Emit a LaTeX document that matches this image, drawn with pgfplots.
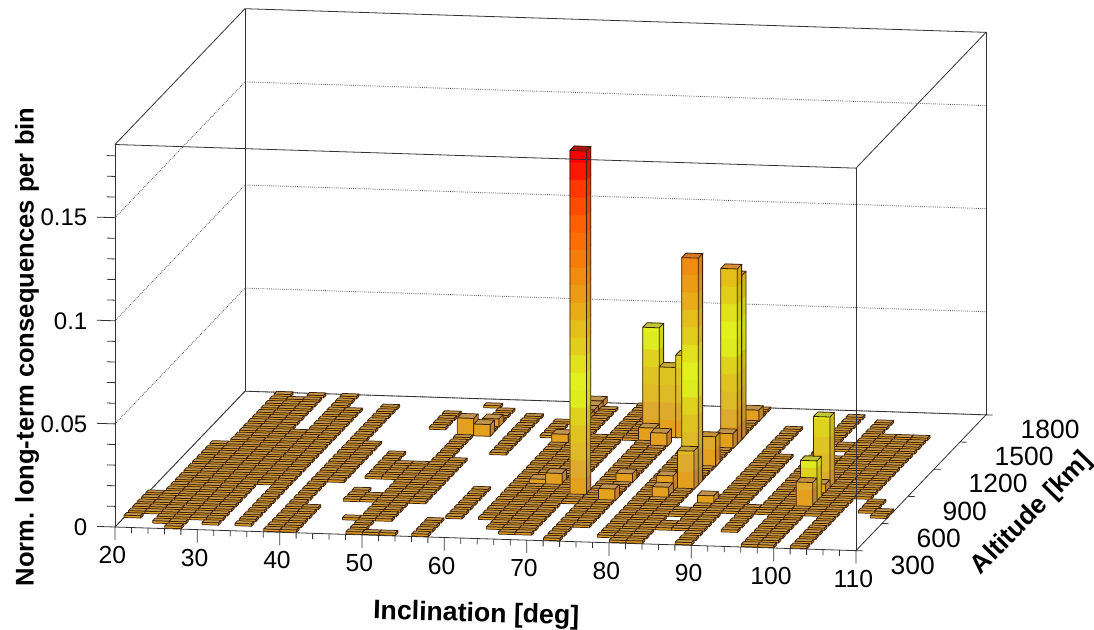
\documentclass[border=0pt]{standalone}
\usepackage{pgfplots}
\pgfplotsset{compat=1.18}
\usepackage{fontspec}
\setmainfont{Liberation Sans}
\definecolor{edgec}{RGB}{60,32,8}
\definecolor{boxc}{RGB}{50,50,50}
\makeatletter
\let\tonum\pgf@sys@tonumber
\makeatother
% ---- data: bin i = (inclination-20)/2, bin j = (altitude-300)/50 ----
\newcommand\setbar[3]{\expandafter\gdef\csname h@#1@#2\endcsname{#3}}
\newcount\tmpj
\newcommand\runbars[3]{% column, first row, last row (lowest bars)
  \tmpj=#2\relax
  \loop\ifnum\tmpj>#3\relax\else
    \setbar{#1}{\the\tmpj}{0.0011}\advance\tmpj by 1\relax
  \repeat}
\runbars{0}{2}{7}
\runbars{1}{3}{18}
\runbars{2}{1}{29}
\runbars{3}{0}{28}
\runbars{4}{2}{29}
\runbars{5}{1}{21}
\runbars{6}{10}{29}
\runbars{7}{1}{26}
\runbars{9}{0}{27}
\runbars{10}{0}{5}\runbars{10}{11}{19}
\runbars{12}{7}{9}\runbars{12}{12}{17}
\runbars{13}{3}{3}\runbars{13}{7}{8}\runbars{13}{12}{15}\runbars{13}{23}{26}
\runbars{14}{0}{15}
\runbars{15}{0}{0}\runbars{15}{3}{21}\runbars{15}{28}{28}
\runbars{16}{0}{0}\runbars{16}{7}{16}\runbars{16}{23}{23}\runbars{16}{25}{27}
\runbars{18}{0}{3}\runbars{18}{18}{26}
\runbars{19}{4}{10}
\runbars{20}{22}{25}
\runbars{21}{4}{21}
\runbars{22}{2}{28}
\runbars{23}{1}{22}
\runbars{24}{1}{29}
\runbars{25}{8}{9}\runbars{25}{22}{28}
\runbars{26}{0}{21}
\runbars{27}{3}{20}
\runbars{29}{1}{20}
\runbars{30}{0}{20}
\runbars{31}{0}{20}\runbars{31}{24}{29}
\runbars{32}{3}{4}\runbars{32}{6}{7}
\runbars{33}{3}{10}
\runbars{34}{0}{25}
\runbars{35}{7}{19}
\runbars{36}{3}{8}
\runbars{37}{7}{28}
\runbars{38}{0}{19}\runbars{38}{21}{22}
\runbars{39}{0}{27}
\runbars{40}{7}{24}
\runbars{41}{0}{24}
\runbars{42}{11}{24}
\runbars{43}{8}{10}
\runbars{44}{7}{8}
% raised bars
\setbar{15}{22}{0.0084}\setbar{16}{22}{0.0057}\setbar{16}{24}{0.0040}
\setbar{21}{21}{0.0044}\setbar{21}{26}{0.0030}\setbar{21}{27}{0.0030}\setbar{21}{28}{0.0030}\setbar{21}{29}{0.0030}
\setbar{22}{12}{0.0026}\setbar{23}{12}{0.0057}
\setbar{25}{10}{0.1670}
\setbar{26}{22}{0.0065}\setbar{26}{23}{0.0530}
\setbar{27}{21}{0.0065}\setbar{27}{23}{0.0340}\setbar{28}{23}{0.0400}
\setbar{27}{9}{0.0058}\setbar{27}{13}{0.0044}
\setbar{30}{10}{0.0052}\setbar{30}{11}{0.0085}
\setbar{31}{12}{0.0186}\setbar{31}{13}{0.1100}\setbar{31}{17}{0.0146}
\setbar{31}{21}{0.0073}\setbar{31}{22}{0.0850}\setbar{31}{23}{0.0795}\setbar{31}{27}{0.0055}
\setbar{33}{9}{0.0040}
\setbar{39}{9}{0.0120}\setbar{39}{10}{0.0203}\setbar{39}{12}{0.0046}\setbar{39}{13}{0.0350}
% two bars whose colour runs a few bands brighter than their height
\expandafter\def\csname s@39@10\endcsname{3}
\expandafter\def\csname s@39@13\endcsname{1}
% ---- drawing machinery ----
\newcount\jc \newcount\ic \newcount\kc \newcount\kcb \newcount\kca
\newdimen\zlo \newdimen\zhi \newdimen\hh
\gdef\stream{}
\def\addface#1#2#3#4#5{\xdef\stream{\unexpanded\expandafter{\stream}(#1)[#5](#2)[#5](#3)[#5](#4)[#5]}}
\def\flushfaceted{\ifx\stream\empty\else
  \edef\tmp{\noexpand\addplot3[patch,patch type=rectangle,shader=faceted,faceted color=edgec,line width=0.55pt,
     point meta=explicit,colormap access=direct] coordinates {\unexpanded\expandafter{\stream}};}\tmp
  \gdef\stream{}\fi}
\def\emitcell{%
  \expandafter\ifx\csname h@\the\ic @\the\jc\endcsname\relax\else
    \edef\xa{\the\numexpr20+2*\ic}\edef\xb{\the\numexpr22+2*\ic}%
    \edef\hv{\csname h@\the\ic @\the\jc\endcsname}%
    \hh=\hv pt\relax
    \ifdim\hh>0.0012pt\relax
      \edef\ya{\the\numexpr300+50*\jc}\edef\yb{\the\numexpr350+50*\jc}%
    \else
      \edef\ya{\the\numexpr305+50*\jc}\edef\yb{\the\numexpr335+50*\jc}%
    \fi
    \ifdim\hh>0.0085pt\relax\talbar\else
      \addface{\xa,\ya,0}{\xb,\ya,0}{\xb,\ya,\hv}{\xa,\ya,\hv}{0}%
      \addface{\xb,\ya,0}{\xb,\yb,0}{\xb,\yb,\hv}{\xb,\ya,\hv}{20}%
      \addface{\xa,\ya,\hv}{\xb,\ya,\hv}{\xb,\yb,\hv}{\xa,\yb,\hv}{40}%
    \fi
  \fi}
\def\talbar{\flushfaceted
  \expandafter\ifx\csname s@\the\ic @\the\jc\endcsname\relax\def\cshift{0}\else\edef\cshift{\csname s@\the\ic @\the\jc\endcsname}\fi
  \kc=0 \bandloop
  \flushflat
  \addplot3[edgec,line width=0.6pt,mark=none] coordinates {(\xa,\ya,0)(\xb,\ya,0)(\xb,\ya,\hv)(\xa,\ya,\hv)(\xa,\ya,0)(\xa,\ya,\hv)(\xa,\yb,\hv)(\xb,\yb,\hv)(\xb,\ya,\hv)(\xb,\ya,0)(\xb,\yb,0)(\xb,\yb,\hv)};}
\def\bandloop{%
  \zlo=0.0085pt \multiply\zlo by \kc
  \ifdim\zlo<\hh
    \zhi=\zlo \advance\zhi by 0.0095pt
    \ifdim\zhi>\hh \zhi=\hh \fi
    \edef\zl{\tonum\zlo}\edef\zh{\tonum\zhi}%
    \kca=\kc \advance\kca by \cshift
    \kcb=\kca \advance\kcb by 20
    \addface{\xa,\ya,\zl}{\xb,\ya,\zl}{\xb,\ya,\zh}{\xa,\ya,\zh}{\the\kca}%
    \addface{\xb,\ya,\zl}{\xb,\yb,\zl}{\xb,\yb,\zh}{\xb,\ya,\zh}{\the\kcb}%
    \edef\lastk{\the\kca}%
    \advance\kc by 1
    \expandafter\bandloop
  \else
    \kcb=\lastk \advance\kcb by 40
    \addface{\xa,\ya,\hv}{\xb,\ya,\hv}{\xb,\yb,\hv}{\xa,\yb,\hv}{\the\kcb}%
  \fi}
\def\flushflat{%
  \edef\tmp{\noexpand\addplot3[patch,patch type=rectangle,shader=flat,
     point meta=explicit,colormap access=direct] coordinates {\unexpanded\expandafter{\stream}};}\tmp
  \gdef\stream{}}
\def\emitcols{\ifnum\ic>44 \else\emitcell\advance\ic by 1 \expandafter\emitcols\fi}
\def\emitrows{\ifnum\jc<0 \else\ic=0 \emitcols\advance\jc by -1 \expandafter\emitrows\fi}
\pgfplotsset{colormap={lego}{
 rgb255=(226,160,30) rgb255=(222,170,45) rgb255=(222,185,40) rgb255=(222,195,35) rgb255=(222,210,30)
 rgb255=(222,235,30) rgb255=(225,240,30) rgb255=(225,225,30) rgb255=(225,205,28) rgb255=(228,190,25)
 rgb255=(232,172,22) rgb255=(236,155,20) rgb255=(240,140,15) rgb255=(245,125,10) rgb255=(250,110,5)
 rgb255=(255,95,0) rgb255=(255,75,0) rgb255=(255,55,0) rgb255=(250,25,0) rgb255=(250,0,0)
 % right-hand faces
 rgb255=(190,132,52) rgb255=(195,150,45) rgb255=(198,165,40) rgb255=(200,175,35) rgb255=(200,190,30)
 rgb255=(205,215,30) rgb255=(205,220,30) rgb255=(205,205,30) rgb255=(205,185,28) rgb255=(208,170,25)
 rgb255=(212,155,22) rgb255=(216,140,20) rgb255=(220,125,15) rgb255=(225,112,10) rgb255=(230,100,5)
 rgb255=(235,85,0) rgb255=(235,68,0) rgb255=(235,50,0) rgb255=(228,22,0) rgb255=(228,0,0)
 % top faces
 rgb255=(190,148,78) rgb255=(195,145,60) rgb255=(195,160,55) rgb255=(195,170,50) rgb255=(195,185,50)
 rgb255=(190,200,50) rgb255=(190,200,50) rgb255=(190,190,50) rgb255=(200,170,50) rgb255=(210,150,55)
 rgb255=(212,140,55) rgb255=(212,130,50) rgb255=(212,120,40) rgb255=(210,105,30) rgb255=(205,90,25)
 rgb255=(200,75,20) rgb255=(195,60,20) rgb255=(190,45,20) rgb255=(180,30,20) rgb255=(170,20,20)
}}
% tick marks, as segments in data coordinates
\gdef\tickstream{}
\def\addtick#1#2{\xdef\tickstream{\unexpanded\expandafter{\tickstream}(#1)(#2)(nan,nan,nan)}}
\newcount\tc
\tc=0
\loop\ifnum\tc<46
  \edef\tx{\the\numexpr20+2*\tc}%
  \ifnum\numexpr\tc-5*(\tc/5)\relax=0
    \addtick{\tx,300,0}{\tx,300,-0.0063}%
  \else
    \addtick{\tx,300,0}{\tx,300,-0.0028}%
  \fi
  \advance\tc by 1
\repeat
\tc=0
\loop\ifnum\tc<19
  \edef\tz{\ifnum\tc<10 0.0\the\tc\else 0.\the\tc\fi}%
  \ifnum\numexpr\tc-5*(\tc/5)\relax=0
    \addtick{20,300,\tz}{17.8,300,\tz}%
  \else
    \addtick{20,300,\tz}{19,300,\tz}%
  \fi
  \advance\tc by 1
\repeat
\addtick{110,300,0}{110.8,300,0}
\addtick{110,600,0}{110.8,600,0}
\addtick{110,900,0}{110.8,900,0}
\addtick{110,1200,0}{110.8,1200,0}
\addtick{110,1500,0}{110.8,1500,0}
\addtick{110,1800,0}{110.8,1800,0}
\begin{document}
\begin{tikzpicture}
\begin{axis}[
  x={(6.175pt,-0.197pt)}, y={(0.065pt,0.0679pt)}, z={(0pt,1546.5pt)},
  xmin=20,xmax=110,ymin=300,ymax=1800,zmin=0,zmax=0.1855,
  3d box=complete, clip=false,
  axis line style={boxc,line width=0.6pt},
  xtick={20,30,...,110}, ytick={300,600,...,1800}, ztick={0,0.05,0.1,0.15},
  zticklabels={0,0.05,0.1,0.15},
  zmajorgrids=true, major grid style={densely dotted,boxc,line width=0.7pt},
  major tick length=0pt, minor tick length=0pt,
  tick align=outside,
  /pgf/number format/assume math mode=true,
  /pgf/number format/set thousands separator={},
  xticklabel style={font=\fontsize{18.5pt}{20pt}\selectfont,anchor=center,xshift=-2pt,yshift=-21pt},
  yticklabel style={font=\fontsize{19.8pt}{20pt}\selectfont,anchor=west,xshift=22.5pt,yshift=-11pt},
  zticklabel style={font=\fontsize{18pt}{20pt}\selectfont,anchor=east,xshift=-17.25pt},
  xlabel={\bfseries Inclination [deg]}, ylabel={\bfseries Altitude [km]}, zlabel={\bfseries Norm. long-term consequences per bin},
  xlabel style={font=\fontsize{20pt}{22pt}\selectfont,anchor=center,at={(axis cs:65,300,0)},xshift=-7pt,yshift=-57pt,rotate=-1.5},
  ylabel style={font=\fontsize{19.6pt}{22pt}\selectfont,anchor=center,at={(axis cs:110,1050,0)},xshift=83.25pt,yshift=-23.25pt,rotate=45.5},
  zlabel style={font=\fontsize{19.2pt}{22pt}\selectfont,anchor=center,at={(axis cs:20,300,0.09)},xshift=-4.2pt,yshift=66pt},
  colormap name=lego,
]
\coordinate (ref) at (axis cs:20,300,0);
\edef\tmp{\noexpand\addplot3[boxc,line width=0.6pt,mark=none,unbounded coords=jump] coordinates {\unexpanded\expandafter{\tickstream}};}\tmp
\jc=29 \emitrows \flushfaceted
\end{axis}
\pgfresetboundingbox
\path[use as bounding box] ([shift={(-86.25pt,-76.5pt)}]ref) rectangle ([shift={(734.25pt,395.25pt)}]ref);
\end{tikzpicture}
\end{document}
